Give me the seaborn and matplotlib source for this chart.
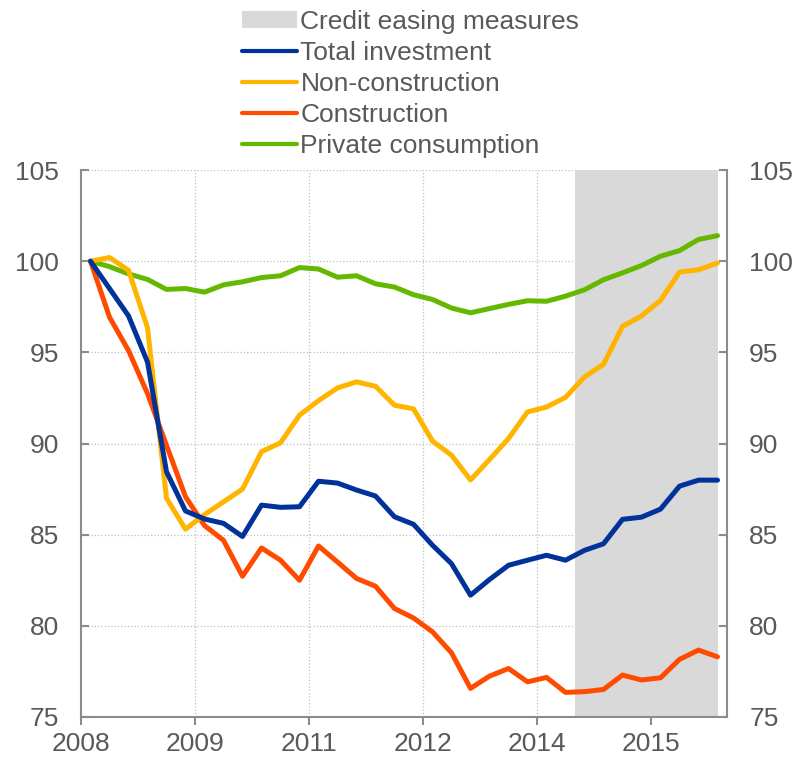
import numpy as np
import pandas as pd
import matplotlib
matplotlib.use('Agg')
import matplotlib.pyplot as plt
import seaborn as sns
from matplotlib.patches import Patch
from matplotlib.lines import Line2D

# quarterly index, 2008Q1 = 100
quarters = pd.period_range('2008Q1', periods=34, freq='Q').astype(str)
total_investment = [100, 98.5, 97.0, 94.47, 88.45, 86.3, 85.86, 85.62, 84.9, 86.62,
                    86.5, 86.53, 87.93, 87.83, 87.45, 87.12, 85.98, 85.57, 84.42, 83.41,
                    81.68, 82.54, 83.32, 83.6, 83.87, 83.6, 84.14, 84.5, 85.84, 85.96,
                    86.4, 87.66, 87.99, 87.99]
non_construction = [100, 100.2, 99.5, 96.35, 87.0, 85.3, 86.1, 86.8, 87.5, 89.55,
                    90.04, 91.55, 92.35, 93.05, 93.38, 93.14, 92.1, 91.9, 90.13, 89.36,
                    88.0, 89.12, 90.27, 91.73, 92.0, 92.53, 93.65, 94.34, 96.42, 97.0,
                    97.85, 99.4, 99.53, 99.9]
construction = [100, 96.93, 95.1, 92.74, 89.9, 87.08, 85.5, 84.69, 82.72, 84.27,
                83.6, 82.5, 84.38, 83.5, 82.6, 82.17, 80.95, 80.43, 79.67, 78.52,
                76.57, 77.24, 77.66, 76.93, 77.17, 76.35, 76.39, 76.51, 77.3, 77.03,
                77.15, 78.16, 78.67, 78.3]
private_consumption = [100, 99.7, 99.3, 99.0, 98.45, 98.5, 98.3, 98.7, 98.87, 99.1,
                       99.2, 99.65, 99.57, 99.12, 99.2, 98.76, 98.58, 98.16, 97.9, 97.43,
                       97.17, 97.4, 97.63, 97.83, 97.8, 98.08, 98.43, 98.98, 99.36, 99.76,
                       100.27, 100.58, 101.19, 101.4]
tick_labels = ['2008', '2009', '2011', '2012', '2014', '2015']
easing_start, easing_end = '2014Q3', '2016Q2'

series = {
    'Total investment': total_investment,
    'Non-construction': non_construction,
    'Construction': construction,
    'Private consumption': private_consumption,
}
colors = {
    'Total investment': '#003299',
    'Non-construction': '#FFB400',
    'Construction': '#FF4B00',
    'Private consumption': '#65B800',
}

idx = np.arange(len(quarters))
df = pd.DataFrame({'pos': idx, 'quarter': quarters, **series})
long_df = df.melt(id_vars=['pos', 'quarter'], var_name='series', value_name='value')

sns.set_style('white')
plt.rcParams['font.family'] = ['Liberation Sans', 'DejaVu Sans']
text_color = '#595959'
axis_color = '#8c8c8c'
fs = 19

fig = plt.figure(figsize=(7.97, 7.59), dpi=100)
ax = fig.add_axes([81 / 797, 1 - 717 / 759, (727 - 81) / 797, (717 - 170) / 759])

# credit easing shading (from boundary before start quarter to end quarter)
q = list(quarters)
ax.axvspan(q.index(easing_start) - 0.5, q.index(easing_end), color='#D9D9D9', lw=0, zorder=1)

sns.lineplot(data=long_df, x='pos', y='value', hue='series', palette=colors,
             hue_order=list(series.keys())[::-1], linewidth=3.6, ax=ax,
             legend=False, zorder=3)

ax.set_xlim(-0.5, len(quarters) - 0.5)
ax.set_ylim(75, 105)
ax.set_yticks(np.arange(75, 106, 5))
ax.set_xticks(np.arange(-0.5, len(quarters) - 0.5, 6))
ax.set_xticklabels(tick_labels)
ax.set_xlabel('')
ax.set_ylabel('')

ax.grid(True, linestyle=':', color='#bfbfbf', linewidth=0.9, zorder=0)
ax.set_axisbelow(True)

for side in ['left', 'right', 'bottom']:
    ax.spines[side].set_color(axis_color)
    ax.spines[side].set_linewidth(1.5)
ax.spines['top'].set_visible(False)

ax.tick_params(axis='y', which='both', direction='in', left=True, right=True,
               labelleft=True, labelright=True, length=6, width=1.5,
               color=axis_color, labelcolor=text_color, labelsize=fs, pad=16)
ax.tick_params(axis='x', direction='out', bottom=True, length=6, width=1.5,
               color=axis_color, labelcolor=text_color, labelsize=fs, pad=5)

handles = [Patch(facecolor='#D9D9D9', edgecolor='none', label='Credit easing measures')]
handles += [Line2D([0], [0], color=colors[k], lw=3, label=k) for k in series]
fig.legend(handles=handles, loc='upper left', bbox_to_anchor=(226 / 797, 1.008),
           frameon=False, fontsize=fs, labelcolor=text_color, handlelength=2.1,
           handletextpad=0.12, labelspacing=0.27, borderaxespad=0.2,
           handleheight=0.6)

fig.savefig('out.png', dpi=100)
